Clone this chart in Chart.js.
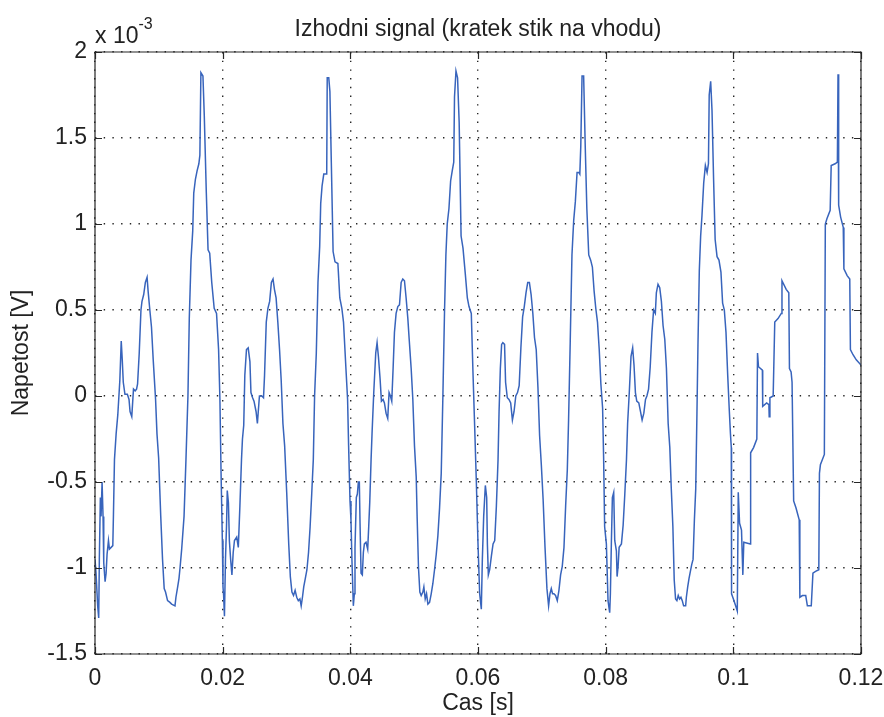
<!DOCTYPE html>
<html>
<head>
<meta charset="utf-8">
<script src="https://cdn.jsdelivr.net/npm/chart.js@4/dist/chart.umd.min.js"></script>
<style>
  html, body { margin: 0; padding: 0; background: #ffffff; }
  #plot { display: block; }
</style>
</head>
<body>
<canvas id="plot" width="884" height="717"></canvas>
<script>
// Izhodni signal - measured output, one period every 20 ms
// time in ms, voltage in units of 1e-3 V
const cycle1 = [
  [0.00, -0.95], [0.16, -1.03], [0.42, -1.22], [0.58, -1.29], [0.68, -0.95], [0.84, -0.59],
  [0.95, -0.70], [1.11, -0.50], [1.26, -0.70], [1.37, -0.97], [1.58, -1.08], [1.74, -1.03],
  [1.89, -0.92], [2.11, -0.84], [2.26, -0.89], [2.53, -0.88], [2.79, -0.87], [2.89, -0.69],
  [3.05, -0.37], [3.31, -0.22], [3.57, -0.11], [3.89, 0.09], [4.11, 0.32], [4.27, 0.21],
  [4.43, 0.08], [4.69, 0.01], [5.07, 0.01], [5.33, -0.02], [5.49, -0.09], [5.76, -0.12],
  [6.03, 0.04], [6.29, 0.03], [6.51, 0.04], [6.67, 0.07], [6.93, 0.25], [7.20, 0.50],
  [7.36, 0.55], [7.63, 0.59], [7.89, 0.66], [8.16, 0.69], [8.32, 0.61], [8.59, 0.50],
  [8.85, 0.40], [9.12, 0.21], [9.49, -0.02], [9.71, -0.22], [9.97, -0.36], [10.30, -0.70],
  [10.58, -0.95], [10.84, -1.12], [11.05, -1.14], [11.37, -1.19], [11.74, -1.20], [12.00, -1.21],
  [12.53, -1.22], [12.68, -1.17], [12.95, -1.11], [13.16, -1.06], [13.32, -1.00], [13.58, -0.89],
  [13.95, -0.70], [14.25, -0.37], [14.56, 0.00], [14.77, 0.45], [15.04, 0.79], [15.31, 0.96],
  [15.47, 1.18], [15.73, 1.26], [16.00, 1.31], [16.27, 1.35], [16.43, 1.40], [16.59, 1.88],
  [16.91, 1.86], [17.12, 1.63], [17.44, 1.18], [17.71, 0.85], [17.97, 0.83], [18.29, 0.66],
  [18.67, 0.51], [19.04, 0.48], [19.36, 0.27], [19.57, -0.02], [19.75, -0.45]
];
const cycle2 = [
  [19.95, -0.84], [20.05, -1.11], [20.15, -1.16], [20.28, -1.28], [20.44, -0.95], [20.60, -0.76],
  [20.72, -0.55], [20.90, -0.62], [21.05, -0.84], [21.25, -0.95], [21.45, -1.04], [21.65, -0.91],
  [21.85, -0.84], [22.20, -0.82], [22.45, -0.88], [22.70, -0.64], [22.95, -0.37], [23.10, -0.25],
  [23.30, -0.17], [23.47, 0.12], [23.73, 0.27], [24.00, 0.28], [24.27, 0.20], [24.43, 0.02],
  [24.69, -0.01], [24.91, -0.03], [25.23, -0.09], [25.44, -0.16], [25.76, 0.00], [26.13, 0.00],
  [26.40, -0.01], [26.56, 0.12], [26.83, 0.43], [27.09, 0.51], [27.36, 0.55], [27.63, 0.66],
  [27.89, 0.68], [28.11, 0.62], [28.37, 0.57], [28.64, 0.43], [28.91, 0.27], [29.17, 0.09],
  [29.44, -0.16], [29.71, -0.29], [30.03, -0.56], [30.35, -0.86], [30.60, -1.05], [30.85, -1.14],
  [31.10, -1.16], [31.35, -1.13], [31.60, -1.17], [31.85, -1.19], [32.10, -1.18], [32.30, -1.22],
  [32.50, -1.17], [32.70, -1.11], [32.95, -1.06], [33.20, -1.01], [33.45, -0.91], [33.70, -0.76],
  [33.95, -0.57], [34.20, -0.37], [34.40, 0.00], [34.67, 0.25], [34.93, 0.66], [35.20, 0.87],
  [35.36, 1.12], [35.57, 1.22], [35.84, 1.29], [36.05, 1.29], [36.30, 1.29], [36.38, 1.85],
  [36.62, 1.85], [36.80, 1.77], [37.02, 1.36], [37.30, 0.84], [37.60, 0.78], [38.05, 0.77],
  [38.35, 0.57], [38.67, 0.51], [38.93, 0.43], [39.31, 0.16], [39.57, -0.02], [39.73, -0.29]
];
const cycle3 = [
  [39.95, -0.61], [40.10, -0.72], [40.25, -0.95], [40.47, -1.22], [40.63, -1.15], [40.73, -0.88],
  [40.94, -0.59], [41.10, -0.57], [41.26, -0.50], [41.41, -0.50], [41.52, -0.74], [41.68, -1.03],
  [41.88, -1.04], [42.04, -0.91], [42.20, -0.86], [42.46, -0.85], [42.72, -0.89], [42.88, -0.76],
  [43.04, -0.62], [43.25, -0.37], [43.40, -0.22], [43.67, 0.02], [43.98, 0.25], [44.19, 0.31],
  [44.40, 0.23], [44.66, 0.10], [44.87, -0.03], [45.13, -0.02], [45.34, -0.04], [45.60, -0.10],
  [45.86, -0.13], [46.07, 0.02], [46.28, 0.00], [46.49, -0.03], [46.70, 0.16], [46.91, 0.37],
  [47.17, 0.48], [47.44, 0.52], [47.70, 0.53], [47.96, 0.66], [48.22, 0.68], [48.48, 0.67],
  [48.74, 0.57], [49.01, 0.45], [49.22, 0.33], [49.53, 0.16], [49.79, -0.02], [50.05, -0.29],
  [50.32, -0.47], [50.47, -0.71], [50.68, -1.00], [50.89, -1.14], [51.10, -1.16], [51.36, -1.14],
  [51.52, -1.11], [51.73, -1.18], [51.94, -1.15], [52.15, -1.21], [52.41, -1.20], [52.67, -1.15],
  [52.93, -1.09], [53.19, -1.01], [53.46, -0.92], [53.72, -0.81], [53.98, -0.65], [54.24, -0.45],
  [54.50, 0.00], [54.76, 0.50], [54.97, 0.82], [55.18, 1.00], [55.45, 1.09], [55.71, 1.25],
  [55.97, 1.31], [56.20, 1.36], [56.32, 1.74], [56.55, 1.89], [56.80, 1.85], [57.05, 1.59],
  [57.35, 0.93], [57.65, 0.86], [58.01, 0.71], [58.33, 0.57], [58.59, 0.52], [58.95, 0.48],
  [59.21, 0.14], [59.48, -0.18], [59.74, -0.50]
];
const cycle4 = [
  [60.00, -0.86], [60.26, -1.15], [60.52, -1.24], [60.68, -0.95], [60.89, -0.70], [61.15, -0.52],
  [61.36, -0.59], [61.47, -0.86], [61.62, -1.04], [61.83, -1.01], [62.10, -0.93], [62.36, -0.86],
  [62.62, -0.84], [62.88, -0.64], [63.14, -0.37], [63.30, -0.09], [63.50, 0.16], [63.70, 0.30],
  [63.89, 0.31], [64.16, 0.30], [64.32, 0.08], [64.59, -0.01], [64.85, -0.02], [65.12, -0.04],
  [65.39, -0.14], [65.65, -0.09], [65.92, 0.00], [66.19, 0.02], [66.45, 0.06], [66.72, 0.28],
  [66.99, 0.46], [67.25, 0.52], [67.52, 0.60], [67.79, 0.66], [68.05, 0.66], [68.32, 0.59],
  [68.59, 0.48], [68.85, 0.34], [69.12, 0.27], [69.39, 0.05], [69.65, -0.23], [69.92, -0.40],
  [70.20, -0.60], [70.50, -0.88], [70.80, -1.12], [71.06, -1.22], [71.27, -1.15], [71.48, -1.12],
  [71.68, -1.15], [71.89, -1.15], [72.15, -1.16], [72.42, -1.19], [72.68, -1.13], [72.94, -1.04],
  [73.20, -0.99], [73.47, -0.88], [73.73, -0.64], [73.99, -0.43], [74.19, -0.14], [74.45, 0.32],
  [74.72, 0.82], [74.99, 1.02], [75.25, 1.13], [75.52, 1.30], [75.79, 1.30], [75.95, 1.29],
  [76.10, 1.45], [76.30, 1.86], [76.55, 1.86], [76.80, 1.45], [77.05, 1.09], [77.35, 0.82],
  [77.65, 0.79], [77.92, 0.75], [78.19, 0.61], [78.45, 0.51], [78.72, 0.43], [78.99, 0.27],
  [79.25, 0.07], [79.52, -0.07], [79.68, -0.36]
];
const cycle5 = [
  [79.84, -0.76], [80.11, -0.86], [80.37, -1.19], [80.63, -1.26], [80.74, -1.15], [80.89, -0.86],
  [81.05, -0.59], [81.26, -0.56], [81.42, -0.84], [81.68, -0.90], [81.79, -1.05], [81.95, -0.99],
  [82.11, -0.88], [82.47, -0.86], [82.74, -0.75], [83.00, -0.57], [83.26, -0.37], [83.44, -0.16],
  [83.70, 0.02], [83.97, 0.23], [84.23, 0.28], [84.44, 0.18], [84.66, 0.02], [84.87, -0.03],
  [85.19, -0.04], [85.45, -0.09], [85.71, -0.14], [85.98, -0.10], [86.24, -0.02], [86.46, 0.00],
  [86.72, 0.04], [86.98, 0.17], [87.25, 0.37], [87.51, 0.50], [87.78, 0.48], [87.94, 0.60],
  [88.20, 0.65], [88.47, 0.63], [88.73, 0.55], [88.99, 0.41], [89.26, 0.33], [89.52, 0.16],
  [89.79, -0.16], [90.05, -0.30], [90.27, -0.53], [90.53, -0.76], [90.74, -1.07], [90.95, -1.18],
  [91.16, -1.19], [91.37, -1.16], [91.58, -1.18], [91.79, -1.17], [92.00, -1.19], [92.21, -1.22],
  [92.53, -1.22], [92.64, -1.17], [92.85, -1.11], [93.06, -1.06], [93.27, -1.02], [93.48, -0.98],
  [93.69, -0.95], [93.90, -0.72], [94.11, -0.54], [94.30, -0.10], [94.46, 0.30], [94.67, 0.73],
  [94.88, 0.93], [95.09, 1.05], [95.36, 1.24], [95.62, 1.34], [95.89, 1.30], [96.10, 1.35],
  [96.22, 1.75], [96.45, 1.83], [96.66, 1.66], [96.90, 1.27], [97.15, 0.91], [97.45, 0.81],
  [97.75, 0.79], [98.06, 0.72], [98.32, 0.54], [98.59, 0.50], [98.85, 0.37], [99.12, 0.12],
  [99.35, -0.07], [99.55, -0.22], [99.68, -0.30]
];
const cycle6 = [
  [99.72, -1.15], [100.01, -1.18], [100.36, -1.22], [100.62, -1.25], [100.77, -0.56], [100.98, -0.74],
  [101.28, -0.78], [101.49, -1.04], [101.64, -0.85], [102.66, -0.86], [102.71, -0.33], [103.17, -0.30],
  [103.68, -0.25], [103.79, 0.25], [103.94, 0.17], [104.55, 0.15], [104.60, -0.06], [105.22, -0.04],
  [105.57, -0.05], [105.62, -0.12], [105.73, -0.01], [106.24, 0.00], [106.49, 0.43], [107.00, 0.45],
  [107.51, 0.48], [107.62, 0.67], [108.28, 0.62], [108.69, 0.60], [108.79, 0.16], [109.05, 0.14],
  [109.20, 0.08], [109.45, -0.61], [109.81, -0.65], [110.32, -0.72], [110.42, -1.17], [110.83, -1.16],
  [111.34, -1.16], [111.60, -1.22], [112.21, -1.22], [112.47, -1.03], [112.88, -1.02], [113.39, -1.01],
  [113.49, -0.45], [113.64, -0.40], [114.26, -0.34], [114.41, 1.00], [114.66, 1.03], [115.17, 1.08],
  [115.33, 1.34], [115.94, 1.35], [116.30, 1.36], [116.40, 1.87], [116.50, 1.11], [116.81, 1.04],
  [117.22, 0.98], [117.32, 0.74], [117.83, 0.70], [118.24, 0.68], [118.34, 0.27], [118.75, 0.24],
  [119.26, 0.21], [120.00, 0.18]
];

const xTickValues = [0, 0.02, 0.04, 0.06, 0.08, 0.1, 0.12];
const xTickLabels = ['0', '0.02', '0.04', '0.06', '0.08', '0.1', '0.12'];
const yTickValues = [-1.5, -1, -0.5, 0, 0.5, 1, 1.5, 2];
const yTickLabels = ['-1.5', '-1', '-0.5', '0', '0.5', '1', '1.5', '2'];

const FONT = "'Liberation Sans', Arial, Helvetica, sans-serif";
const TEXT = '#222222';
const AXIS = '#262626';

const points = [cycle1, cycle2, cycle3, cycle4, cycle5, cycle6]
  .flat()
  .map(([ms, v]) => ({ x: ms / 1000, y: v }));

// title, exponent note, box and inward tick marks (MATLAB look)
const frame = {
  id: 'frame',
  afterDatasetsDraw(chart) {
    const { ctx, chartArea: a, scales } = chart;
    const len = 7;
    ctx.save();
    ctx.strokeStyle = AXIS;
    ctx.lineWidth = 1.2;
    ctx.beginPath();
    ctx.rect(a.left, a.top, a.right - a.left, a.bottom - a.top);
    for (const v of xTickValues) {
      const x = Math.round(scales.x.getPixelForValue(v)) + 0.5;
      ctx.moveTo(x, a.bottom); ctx.lineTo(x, a.bottom - len);
      ctx.moveTo(x, a.top); ctx.lineTo(x, a.top + len);
    }
    for (const v of yTickValues) {
      const y = Math.round(scales.y.getPixelForValue(v)) + 0.5;
      ctx.moveTo(a.left, y); ctx.lineTo(a.left + len, y);
      ctx.moveTo(a.right, y); ctx.lineTo(a.right - len, y);
    }
    ctx.stroke();

    ctx.fillStyle = TEXT;
    ctx.textBaseline = 'middle';
    ctx.textAlign = 'center';
    ctx.font = `23px ${FONT}`;
    ctx.fillText('Izhodni signal (kratek stik na vhodu)', (a.left + a.right) / 2, 30);

    ctx.textAlign = 'left';
    ctx.fillText('x 10', a.left, 37);
    const w = ctx.measureText('x 10').width;
    ctx.font = `16px ${FONT}`;
    ctx.fillText('-3', a.left + w, 25);
    ctx.restore();
  }
};

new Chart(document.getElementById('plot'), {
  type: 'line',
  data: {
    datasets: [{
      data: points,
      borderColor: '#3864bc',
      borderWidth: 1.5,
      pointRadius: 0,
      tension: 0,
      fill: false
    }]
  },
  options: {
    responsive: false,
    animation: false,
    devicePixelRatio: 1,
    layout: { padding: { top: 52, right: 23, left: 0, bottom: 0 } },
    plugins: {
      legend: { display: false },
      tooltip: { enabled: false }
    },
    scales: {
      x: {
        type: 'linear',
        min: 0,
        max: 0.12,
        afterBuildTicks: (scale) => { scale.ticks = xTickValues.map(value => ({ value })); },
        afterFit: (scale) => {
          scale.height = 63;
          scale.paddingLeft = 0;
          scale.paddingRight = 0;
        },
        grid: { color: AXIS, lineWidth: 1.4, drawTicks: false },
        border: { display: false, dash: [1.4, 7.3] },
        ticks: {
          autoSkip: false,
          maxRotation: 0,
          padding: 11,
          color: TEXT,
          font: { family: FONT, size: 23 },
          callback: (value, index) => xTickLabels[index]
        },
        title: {
          display: true,
          text: 'Cas [s]',
          color: TEXT,
          font: { family: FONT, size: 23 },
          padding: { top: 0, bottom: 0 }
        }
      },
      y: {
        min: -1.5,
        max: 2,
        afterBuildTicks: (scale) => { scale.ticks = yTickValues.map(value => ({ value })); },
        afterFit: (scale) => {
          scale.width = 95;
          scale.paddingTop = 0;
          scale.paddingBottom = 0;
        },
        grid: { color: AXIS, lineWidth: 1.4, drawTicks: false },
        border: { display: false, dash: [1.4, 7.3] },
        ticks: {
          autoSkip: false,
          padding: 8,
          color: TEXT,
          font: { family: FONT, size: 23 },
          callback: (value, index) => yTickLabels[index]
        },
        title: {
          display: true,
          text: 'Napetost [V]',
          color: TEXT,
          font: { family: FONT, size: 23 },
          padding: { top: 8, bottom: 0 }
        }
      }
    }
  },
  plugins: [frame]
});
</script>
</body>
</html>
